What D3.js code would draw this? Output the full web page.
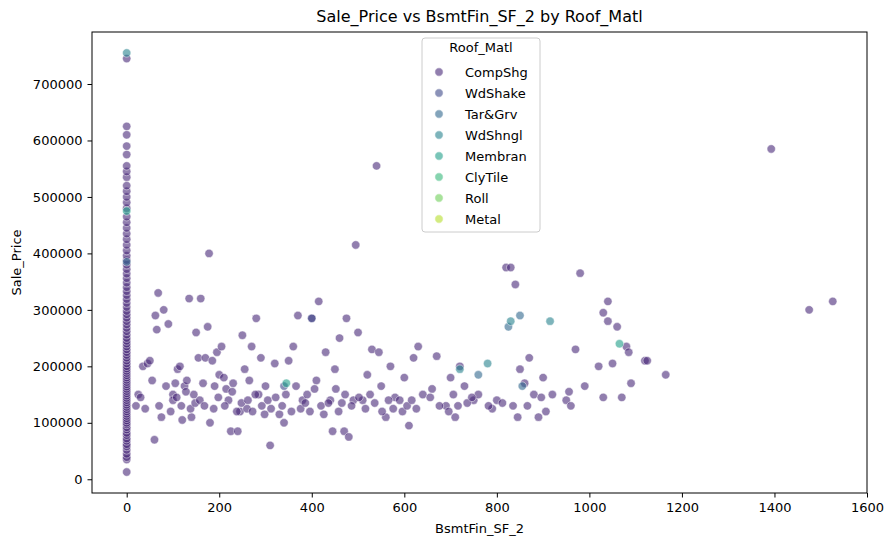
<!DOCTYPE html>
<html lang="en">
<head>
<meta charset="UTF-8">
<title>Sale_Price vs BsmtFin_SF_2</title>
<style>
  body { margin: 0; background: #fff; }
  text { font-family: "DejaVu Sans", sans-serif; fill: #000; }
</style>
</head>
<body>
<svg width="893" height="547"></svg>
<script src="https://d3js.org/d3.v7.min.js"></script>
<script>

var roofTypes = ["CompShg", "WdShake", "Tar&Grv", "WdShngl", "Membran", "ClyTile", "Roll", "Metal"];

// sale prices of houses with BsmtFin_SF_2 == 0, CompShg
var zeroPrices = [12789, 35000, 39000, 45000, 52000, 58000, 62000, 68000, 72000, 78000, 82000, 88000, 92000, 97000,
  100000, 104000, 108000, 112000, 116000, 120000, 124000, 128000, 132000, 136000, 140000, 144000, 148000, 152000,
  156000, 160000, 164000, 168000, 172000, 176000, 180000, 184000, 188000, 192000, 196000, 200000, 205000, 210000,
  215000, 220000, 225000, 230000, 235000, 240000, 245000, 250000, 256000, 262000, 268000, 274000, 280000, 286000,
  292000, 298000, 305000, 312000, 319000, 326000, 333000, 340000, 348000, 356000, 364000, 372000, 380000, 388000,
  396000, 405000, 415000, 425000, 435000, 445000, 455000, 465000, 480000, 490000, 500000, 510000, 520000, 535000,
  545000, 555000, 575000, 590000, 610000, 625000, 745000];

var compShgX = [20, 25, 30, 35, 40, 45, 50, 55, 60, 62, 65, 68, 70, 75, 80, 85, 90, 95, 100, 100, 105, 110, 115, 120, 125,
  130, 135, 140, 145, 150, 155, 160, 165, 170, 175, 178, 180, 185, 190, 195, 200, 205, 210, 215, 220, 225, 230, 240, 245,
  250, 255, 260, 265, 270, 280, 285, 290, 300, 305, 310, 320, 330, 340, 350, 360, 370, 380, 390, 400, 410, 415, 420, 430,
  440, 445, 450, 460, 465, 470, 475, 480, 490, 495, 500, 510, 520, 530, 540, 545, 550, 560, 570, 580, 590, 600, 610, 620,
  630, 640, 660, 670, 690, 700, 710, 720, 730, 750, 760, 790, 800, 820, 830, 835, 840, 845, 850, 860, 870, 880, 890, 900,
  920, 950, 960, 970, 980, 990, 1020, 1030, 1030, 1040, 1040, 1050, 1060, 1070, 1080, 1085, 1090, 1120, 1125, 1165, 1393,
  1475, 1526,
  108, 118, 128, 138, 148, 158, 168, 188, 198, 212, 228, 238, 248, 262, 272, 278, 292, 298, 312, 322, 336, 344, 356, 366,
  376, 386, 396, 406, 426, 436, 452, 458, 472, 486, 502, 516, 526, 536, 552, 566, 576, 596, 606, 616, 626, 656, 676, 696,
  706, 716, 736, 746, 782, 812, 866, 896, 906, 956];
var compShgY = [130000, 150000, 145000, 200000, 125000, 205000, 210000, 175000, 70000, 290000, 265000, 330000, 130000,
  110000, 300000, 165000, 275000, 120000, 150000, 140000, 170000, 195000, 200000, 105000, 165000, 175000, 320000, 110000,
  150000, 260000, 215000, 320000, 170000, 215000, 270000, 400000, 100000, 210000, 165000, 225000, 185000, 235000, 180000,
  160000, 140000, 85000, 170000, 85000, 120000, 255000, 195000, 125000, 175000, 235000, 285000, 150000, 215000, 165000,
  140000, 60000, 205000, 115000, 100000, 210000, 235000, 290000, 140000, 150000, 285000, 175000, 315000, 130000, 225000,
  140000, 85000, 195000, 250000, 135000, 85000, 285000, 75000, 140000, 415000, 260000, 140000, 185000, 230000, 555000,
  225000, 165000, 110000, 200000, 145000, 140000, 180000, 95000, 215000, 235000, 150000, 160000, 218000, 130000, 180000,
  110000, 200000, 165000, 140000, 150000, 125000, 140000, 375000, 375000, 130000, 345000, 110000, 195000, 170000, 215000,
  150000, 110000, 180000, 150000, 140000, 130000, 230000, 365000, 165000, 200000, 295000, 145000, 280000, 315000, 205000,
  270000, 145000, 235000, 225000, 170000, 210000, 210000, 185000, 585000, 300000, 315000,
  145000, 130000, 155000, 125000, 135000, 140000, 130000, 125000, 145000, 130000, 155000, 120000, 135000, 140000, 120000,
  150000, 130000, 115000, 125000, 145000, 130000, 150000, 120000, 165000, 125000, 135000, 120000, 160000, 115000, 135000,
  160000, 120000, 150000, 130000, 145000, 125000, 150000, 135000, 120000, 140000, 125000, 120000, 130000, 140000, 125000,
  145000, 130000, 120000, 150000, 130000, 135000, 145000, 130000, 135000, 130000, 145000, 120000, 155000];

var otherRoof = [1, 1, 2, 2, 2, 2, 3, 3, 3, 3, 4, 4, 3, 2, 4];
var otherX = [340, 400, 825, 850, 855, 760, 915, 830, 720, 780, 1065, 345, 0, 0, 0];
var otherY = [165000, 285000, 270000, 290000, 165000, 185000, 280000, 280000, 195000, 205000, 240000, 170000, 755000, 385000, 475000];

var svg = d3.select("svg"),
    margin = {top: 32, right: 26, bottom: 54, left: 92};
var width = 893 - margin.left - margin.right,
    height = 547 - margin.top - margin.bottom;

var x = d3.scaleLinear().domain([-75, 1600]).range([0, width]);
var y = d3.scaleLinear().domain([-24321, 792110]).range([height, 0]);
var color = function(i) { return d3.interpolateViridis((i + 1) / 9); };

var g = svg.append("g").attr("transform", "translate(" + margin.left + "," + margin.top + ")");

var pts = [];
zeroPrices.forEach(function(v) { pts.push({x: 0, y: v, r: 0}); });
compShgX.forEach(function(v, i) { pts.push({x: v, y: compShgY[i], r: 0}); });
otherX.forEach(function(v, i) { pts.push({x: v, y: otherY[i], r: otherRoof[i]}); });

g.selectAll(".dot").data(pts).enter().append("circle")
    .attr("cx", function(d) { return x(d.x); })
    .attr("cy", function(d) { return y(d.y); })
    .attr("r", 4.2)
    .attr("fill", function(d) { return color(d.r); })
    .attr("fill-opacity", 0.6)
    .attr("stroke", "#fff")
    .attr("stroke-width", 0.6)
    .attr("stroke-opacity", 0.8);

var xAxis = g.append("g").attr("transform", "translate(0," + height + ")")
    .call(d3.axisBottom(x).tickValues(d3.range(0, 1601, 200)).tickFormat(d3.format("d")).tickSize(4.5).tickPadding(5));
var yAxis = g.append("g")
    .call(d3.axisLeft(y).tickValues(d3.range(0, 700001, 100000)).tickFormat(d3.format("d")).tickSize(4.5).tickPadding(5));
[xAxis, yAxis].forEach(function(a) {
  a.selectAll("text").style("font-size", "13px");
  a.select(".domain").remove();
});
g.append("rect").attr("width", width).attr("height", height)
    .attr("fill", "none").attr("stroke", "#000").attr("stroke-width", 1);

svg.append("text").attr("x", margin.left + width / 2).attr("y", 22)
    .attr("text-anchor", "middle").style("font-size", "16px").text("Sale_Price vs BsmtFin_SF_2 by Roof_Matl");
svg.append("text").attr("x", margin.left + width / 2).attr("y", 533)
    .attr("text-anchor", "middle").style("font-size", "13px").text("BsmtFin_SF_2");
svg.append("text").attr("transform", "translate(21," + (margin.top + height / 2) + ") rotate(-90)")
    .attr("text-anchor", "middle").style("font-size", "13px").text("Sale_Price");

// legend
var lg = svg.append("g").attr("transform", "translate(422,38)");
lg.append("rect").attr("width", 118).attr("height", 194).attr("rx", 3)
    .attr("fill", "#fff").attr("fill-opacity", 0.8).attr("stroke", "#ccc");
lg.append("text").attr("x", 59).attr("y", 14).attr("text-anchor", "middle").style("font-size", "13px").text("Roof_Matl");
roofTypes.forEach(function(t, i) {
  var row = lg.append("g").attr("transform", "translate(0," + (34 + i * 21) + ")");
  row.append("circle").attr("cx", 17).attr("cy", 0).attr("r", 4.2)
      .attr("fill", color(i)).attr("fill-opacity", 0.6).attr("stroke", "#fff").attr("stroke-width", 0.6);
  row.append("text").attr("x", 43).attr("y", 4.5).style("font-size", "13px").text(t);
});
</script>
</body>
</html>
